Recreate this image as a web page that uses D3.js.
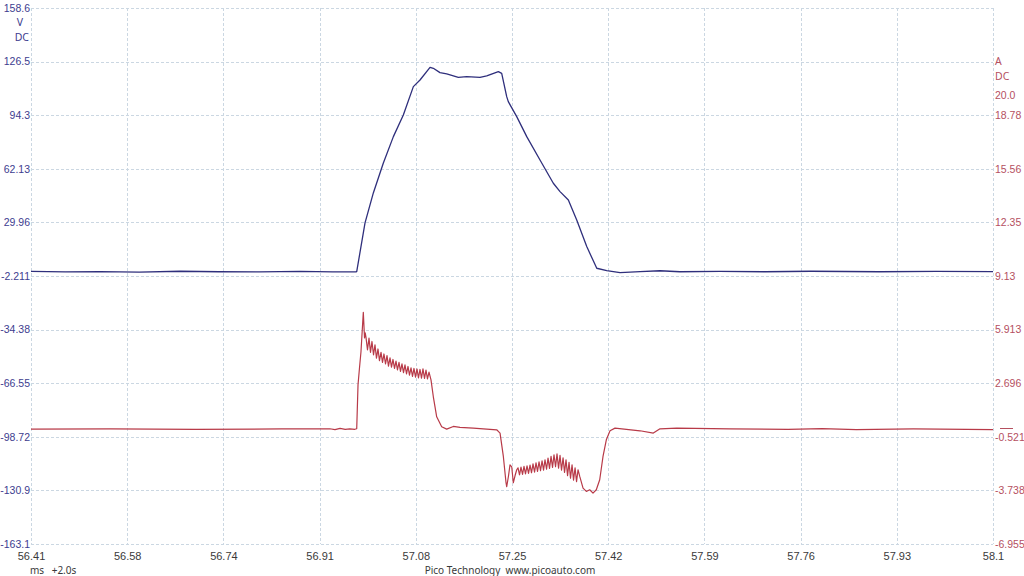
<!DOCTYPE html>
<html>
<head>
<meta charset="utf-8">
<script src="https://cdn.jsdelivr.net/npm/d3@7"></script>
<style>
  html, body { margin: 0; padding: 0; background: #fff; }
  svg { display: block; font-family: "Noto Sans", "Open Sans", sans-serif; }
</style>
</head>
<body>
<svg id="chart" width="1024" height="576"></svg>
<script>
const TIME_DOMAIN = [56.41, 58.1];
const VOLT_DOMAIN = [-163.1, 158.6];
const AMP_DOMAIN = [-6.955, 25.214];

const timeTicks = [56.41, 56.579, 56.748, 56.917, 57.086, 57.255, 57.424, 57.593, 57.762, 57.931, 58.1];
const timeTickLabels = ["56.41", "56.58", "56.74", "56.91", "57.08", "57.25", "57.42", "57.59", "57.76", "57.93", "58.1"];

const voltTicks = [158.6, 126.43, 94.26, 62.13, 29.96, -2.211, -34.38, -66.55, -98.72, -130.93, -163.1];
const voltTickLabels = ["158.6", "126.5", "94.3", "62.13", "29.96", "-2.211", "-34.38", "-66.55", "-98.72", "-130.9", "-163.1"];

const ampTicks = [20.0, 18.78, 15.56, 12.35, 9.13, 5.913, 2.696, -0.521, -3.738, -6.955];
const ampTickLabels = ["20.0", "18.78", "15.56", "12.35", "9.13", "5.913", "2.696", "-0.521", "-3.738", "-6.955"];

// channel A: voltage (V), [time ms, value]
const voltTrace = [
  [56.41, 0.5], [56.47, 0.2], [56.531, 0.4], [56.60, 0.1], [56.672, 0.6], [56.74, 0.3],
  [56.812, 0.2], [56.883, 0.5], [56.94, 0.2], [56.981, 0.3], [56.9822, 0.4],
  [56.9968, 29.6], [57.0114, 47.6], [57.029, 65.6], [57.0466, 81.4], [57.0641, 94.4],
  [57.0817, 111.4], [57.0934, 115.4], [57.111, 123.0], [57.1168, 122.4], [57.1285, 119.8],
  [57.1403, 119.0], [57.1607, 117.0], [57.1754, 117.4], [57.1988, 117.0], [57.2106, 117.8],
  [57.231, 120.4], [57.2369, 119.4], [57.2457, 105.4], [57.2485, 102.4], [57.2633, 93.4],
  [57.2809, 81.4], [57.3042, 67.4], [57.3276, 53.4], [57.3394, 48.4], [57.354, 43.4],
  [57.3687, 31.4], [57.3863, 15.4], [57.4039, 2.4], [57.4214, 1.0], [57.4448, -0.2],
  [57.48, 0.4], [57.515, 0.9], [57.55, 0.3], [57.62, 0.5], [57.70, 0.3], [57.78, 0.6],
  [57.90, 0.3], [58.0, 0.5], [58.1, 0.4]
];

// channel B: current (A), [time ms, value]
const ampTrace = [
  [56.41, -0.06], [56.55, -0.04], [56.70, -0.07], [56.85, -0.05], [56.935, -0.04],
  [56.944, -0.09], [56.953, -0.02], [56.962, -0.08], [56.970, -0.04], [56.979, -0.07],
  [56.9822, -0.04], [56.9845, 2.60], [56.9871, 3.62], [56.9897, 4.58], [56.9938, 6.95],
  [56.9959, 5.42], [56.9971, 5.72],
  [56.9985, 5.45], [57.0011, 4.70], [57.0038, 5.40], [57.0064, 4.55], [57.0090, 5.20],
  [57.0117, 4.40], [57.0143, 5.00], [57.0169, 4.20], [57.0196, 4.75], [57.0222, 4.05],
  [57.0249, 4.55], [57.0275, 3.95], [57.0301, 4.45], [57.0328, 3.85], [57.0354, 4.35],
  [57.0380, 3.72], [57.0407, 4.22], [57.0433, 3.66], [57.0459, 4.12], [57.0486, 3.58],
  [57.0512, 4.02], [57.0538, 3.50], [57.0565, 3.95], [57.0591, 3.40], [57.0617, 3.86],
  [57.0644, 3.33], [57.0670, 3.80], [57.0697, 3.25], [57.0723, 3.70], [57.0749, 3.18],
  [57.0776, 3.62], [57.0802, 3.10], [57.0828, 3.58], [57.0855, 3.06], [57.0881, 3.55],
  [57.0907, 3.02], [57.0934, 3.52], [57.0960, 3.00], [57.0986, 3.56], [57.1013, 2.98],
  [57.1039, 3.48], [57.1065, 2.95], [57.1092, 3.36],
  [57.1127, 2.90], [57.1168, 1.88], [57.1227, 0.68], [57.1315, 0.08], [57.1403, -0.06],
  [57.1519, 0.10], [57.1637, 0.04], [57.187, 0.00], [57.2281, -0.10], [57.234, -0.30],
  [57.2398, -1.70], [57.2445, -3.28], [57.2457, -3.52], [57.2489, -2.86], [57.2515, -2.20],
  [57.2545, -2.32], [57.2573, -3.28], [57.2603, -2.86], [57.2633, -2.50],
  [57.2656, -2.38], [57.2682, -2.80], [57.2708, -2.34], [57.2735, -2.78], [57.2761, -2.30],
  [57.2787, -2.75], [57.2814, -2.26], [57.2840, -2.72], [57.2867, -2.22], [57.2893, -2.68],
  [57.2919, -2.15], [57.2946, -2.64], [57.2972, -2.08], [57.2998, -2.60], [57.3025, -2.02],
  [57.3051, -2.56], [57.3078, -1.96], [57.3104, -2.52], [57.3130, -1.90], [57.3157, -2.47],
  [57.3183, -1.80], [57.3209, -2.42], [57.3236, -1.70], [57.3262, -2.36], [57.3288, -1.60],
  [57.3315, -2.32], [57.3341, -1.55], [57.3368, -2.40], [57.3394, -1.64], [57.3420, -2.52],
  [57.3447, -1.78], [57.3473, -2.66], [57.3499, -1.90], [57.3526, -2.85], [57.3552, -2.05],
  [57.3578, -3.00], [57.3605, -2.20], [57.3631, -3.12], [57.3658, -2.38], [57.3684, -3.22],
  [57.371, -2.50], [57.374, -2.90], [57.3798, -3.60], [57.3856, -3.80], [57.3915, -3.70],
  [57.3973, -3.90], [57.4031, -3.70], [57.4091, -3.10], [57.4149, -1.70], [57.4207, -0.70],
  [57.4272, -0.16], [57.436, 0.00], [57.4799, -0.16], [57.5033, -0.30], [57.515, -0.04],
  [57.5444, 0.00], [57.638, -0.04], [57.74, -0.08], [57.80, -0.03], [57.86, -0.09],
  [57.96, -0.05], [58.1, -0.09]
];

const VOLT_COLOR = "#2f2f7c";
const AMP_COLOR = "#b83a48";
const VOLT_TEXT = "#3d3d8f";
const AMP_TEXT = "#b5505f";
const GRID_COLOR = "#cbd7e2";
const FONT_SIZE = 10.5;

const margin = { top: 8, right: 31, bottom: 32, left: 31 };
const width = 1024;
const height = 576;
const plotRight = width - margin.right;
const plotBottom = height - margin.bottom;

const svg = d3.select("#chart");

const x = d3.scaleLinear().domain(TIME_DOMAIN).range([margin.left, plotRight]);
const yVolt = d3.scaleLinear().domain(VOLT_DOMAIN).range([plotBottom, margin.top]);
const yAmp = d3.scaleLinear().domain(AMP_DOMAIN).range([plotBottom, margin.top]);

// grid
const grid = svg.append("g")
  .attr("stroke", GRID_COLOR)
  .attr("stroke-width", 1)
  .attr("stroke-dasharray", "3,2");

grid.selectAll("line.h")
  .data(voltTicks)
  .join("line")
  .attr("class", "h")
  .attr("x1", margin.left)
  .attr("x2", plotRight)
  .attr("y1", (d) => Math.round(yVolt(d)) + 0.5)
  .attr("y2", (d) => Math.round(yVolt(d)) + 0.5);

grid.selectAll("line.v")
  .data(timeTicks)
  .join("line")
  .attr("class", "v")
  .attr("y1", margin.top)
  .attr("y2", plotBottom)
  .attr("x1", (d) => Math.round(x(d)) + 0.5)
  .attr("x2", (d) => Math.round(x(d)) + 0.5);

// axes
const voltAxis = svg.append("g")
  .attr("transform", `translate(${margin.left},0)`)
  .call(
    d3.axisLeft(yVolt)
      .tickValues(voltTicks)
      .tickSize(0)
      .tickPadding(1)
      .tickFormat((d, i) => voltTickLabels[i]),
  );

const ampAxis = svg.append("g")
  .attr("transform", `translate(${plotRight},0)`)
  .call(
    d3.axisRight(yAmp)
      .tickValues(ampTicks)
      .tickSize(0)
      .tickPadding(2)
      .tickFormat((d, i) => ampTickLabels[i]),
  );

const timeAxis = svg.append("g")
  .attr("transform", `translate(0,${plotBottom})`)
  .call(
    d3.axisBottom(x)
      .tickValues(timeTicks)
      .tickSize(0)
      .tickPadding(8)
      .tickFormat((d, i) => timeTickLabels[i]),
  );

[voltAxis, ampAxis, timeAxis].forEach((axis) => {
  axis.select(".domain").remove();
  axis.selectAll("text").attr("font-size", FONT_SIZE).attr("font-family", null);
});
voltAxis.selectAll("text").attr("fill", VOLT_TEXT);
ampAxis.selectAll("text").attr("fill", AMP_TEXT);
timeAxis.selectAll("text").attr("fill", "#3a3a3a").attr("font-size", 11);

// unit labels
svg.append("text").attr("x", 20).attr("y", 23).attr("dy", "0.32em")
  .attr("text-anchor", "middle").attr("font-size", FONT_SIZE).attr("fill", VOLT_TEXT).text("V");
svg.append("text").attr("x", 29).attr("y", 38).attr("dy", "0.32em")
  .attr("text-anchor", "end").attr("font-size", FONT_SIZE).attr("fill", VOLT_TEXT).text("DC");
svg.append("text").attr("x", plotRight + 2).attr("y", 62).attr("dy", "0.32em")
  .attr("font-size", FONT_SIZE).attr("fill", AMP_TEXT).text("A");
svg.append("text").attr("x", plotRight + 2).attr("y", 77).attr("dy", "0.32em")
  .attr("font-size", FONT_SIZE).attr("fill", AMP_TEXT).text("DC");

// zero marker on the current axis
svg.append("line")
  .attr("x1", plotRight + 7)
  .attr("x2", plotRight + 20)
  .attr("y1", Math.round(yAmp(0)) + 0.5)
  .attr("y2", Math.round(yAmp(0)) + 0.5)
  .attr("stroke", AMP_TEXT)
  .attr("stroke-width", 1);

// footer
svg.append("text").attr("x", 37).attr("y", 571).attr("dy", "0.32em")
  .attr("text-anchor", "middle").attr("font-size", 10).attr("fill", "#3a3a3a").text("ms");
svg.append("text").attr("x", 64).attr("y", 571).attr("dy", "0.32em")
  .attr("text-anchor", "middle").attr("font-size", 10).attr("fill", "#3a3a3a").text("+2.0s");
svg.append("text").attr("x", 510).attr("y", 571).attr("dy", "0.32em")
  .attr("text-anchor", "middle").attr("font-size", 10).attr("fill", "#3a3a3a")
  .attr("xml:space", "preserve")
  .text("Pico Technology  www.picoauto.com");

// traces
const voltLine = d3.line().x((d) => x(d[0])).y((d) => yVolt(d[1]));
const ampLine = d3.line().x((d) => x(d[0])).y((d) => yAmp(d[1]));

svg.append("path")
  .datum(ampTrace)
  .attr("fill", "none")
  .attr("stroke", AMP_COLOR)
  .attr("stroke-width", 1.2)
  .attr("stroke-linejoin", "round")
  .attr("d", ampLine);

svg.append("path")
  .datum(voltTrace)
  .attr("fill", "none")
  .attr("stroke", VOLT_COLOR)
  .attr("stroke-width", 1.3)
  .attr("stroke-linejoin", "round")
  .attr("d", voltLine);
</script>
</body>
</html>
